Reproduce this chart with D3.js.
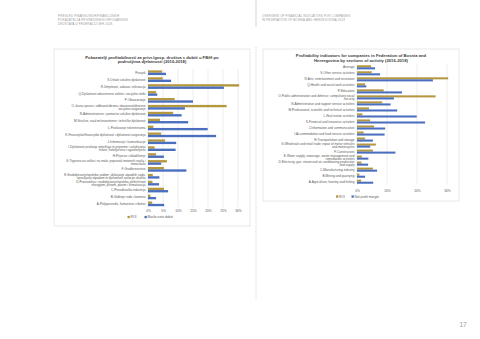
<!DOCTYPE html>
<html><head><meta charset="utf-8">
<script src="https://cdn.jsdelivr.net/npm/d3@7"></script>
<style>body{margin:0;background:#fff}svg{display:block}text{font-family:"Liberation Sans",Arial,sans-serif}</style>
</head><body>
<script>
const categoriesBs = ["Prosjek","S-Ostale uslužne djelatnosti","R-Umjetnost, zabava i rekreacija","Q-Djelatnosti zdravstvene zaštite i socijalne skrbi","P-Obrazovanje","O-Javna uprava i odbrana/obrana; obavezno/obvezno socijalno osiguranje","N-Administrativne i pomoćne uslužne djelatnosti","M-Stručne, naučne/znanstvene i tehničke djelatnosti","L-Poslovanje nekretninama","K-Finansijske/financijske djelatnosti i djelatnosti osiguranja","J-Informacije i komunikacije","I-Djelatnosti pružanja smještaja te pripreme i usluživanja hrane; hotelijerstvo i ugostiteljstvo","H-Prijevoz i skladištenje","G-Trgovina na veliko i na malo; popravak motornih vozila i motocikala","F-Građevinarstvo","E-Snabdijevanje/opskrba vodom; uklanjanje otpadnih voda, upravljanje otpadom te djelatnosti sanacije okoliša","D-Proizvodnja i snabdijevanje/opskrba električnom energijom, plinom, parom i klimatizacija","C-Prerađivačka industrija","B-Vađenje ruda i kamena","A-Poljoprivreda, šumarstvo i ribolov"];
const categoriesEn = ["Average","S-Other service activities","R-Arts, entertainment and recreation","Q-Health and social work activities","P-Education","O-Public administration and defence; compulsory social security","N-Administrative and support service activities","M-Professional, scientific and technical activities","L-Real estate activities","K-Financial and insurance activities","J-Information and communication","I-Accommodation and food service activities","H-Transportation and storage","G-Wholesale and retail trade; repair of motor vehicles and motorcycles","F-Construction","E-Water supply, sewerage, waste management and remediation activities","D-Electricity, gas, steam and air conditioning production and supply","C-Manufacturing industry","B-Mining and quarrying","A-Agriculture, forestry and fishing"];
const roi    = [4.7, 4.9, 30.4, 2.7, 8.9, 26.2, 8.4, 4.0, 1.8, 4.4, 5.7, 2.2, 2.7, 6.3, 5.3, 1.6, 1.5, 5.3, 0.8, 1.4];
const margin = [6.0, 7.7, 25.3, 3.1, 15.0, 12.3, 11.2, 13.4, 19.9, 22.7, 9.4, 9.2, 5.3, 4.4, 12.8, 3.8, 3.7, 6.7, 2.7, 5.4];
const seriesBs = ["ROI","Marža neto dobiti"];
const seriesEn = ["ROI","Net profit margin"];
const titleBs = ["Pokazatelji profitabilnosti za privr./gosp. društva s dobiti u FBiH po","područjima djelatnosti (2016-2018)"];
const titleEn = ["Profitability indicators for companies in Federation of Bosnia and","Herzegovina by sections of activity (2016-2018)"];
const ticksBs = [0,5,10,15,20,25,30];
const ticksEn = [0,10,20,30];
const headerBs = ["PREGLED FINANSIJSKIH/FINANCIJSKIH","POKAZATELJA PRIVREDNIH/GOSPODARSKIH","DRUŠTAVA U FEDERACIJI BIH 2018."];
const headerEn = ["OVERVIEW OF FINANCIAL INDICATORS FOR COMPANIES","IN FEDERATION OF BOSNIA AND HERZEGOVINA 2018"];
const pageNo = "17";

const colors = ["#B5973F","#4A6FBE"];
const W = 480, H = 339;
const svg = d3.select("body").append("svg").attr("width",W).attr("height",H);

// header
svg.append("line").attr("x1",256).attr("x2",256).attr("y1",0).attr("y2",27).attr("stroke","#bbb").attr("stroke-width",0.6);
svg.append("line").attr("x1",256).attr("x2",256).attr("y1",47).attr("y2",300).attr("stroke","#ccc").attr("stroke-width",0.8).attr("stroke-dasharray","1,1");
headerBs.forEach((t,i)=>svg.append("text").attr("x",58).attr("y",17+i*3.9).attr("font-size",2.9).attr("fill","#999").attr("letter-spacing",0.2).text(t));
headerEn.forEach((t,i)=>svg.append("text").attr("x",262).attr("y",17+i*3.9).attr("font-size",2.9).attr("fill","#999").attr("letter-spacing",0.2).text(t));
svg.append("text").attr("x",463).attr("y",327).attr("text-anchor","middle").attr("font-size",6.5).attr("fill","#999").text(pageNo);

function wrap(sel, width){
  sel.each(function(){
    const t = d3.select(this);
    const words = t.text().split(/\s+/);
    const x = t.attr("x"), fs = +t.attr("font-size");
    t.text(null);
    let lines=[], line=[];
    let ts = t.append("tspan").attr("x",x);
    for(const w of words){
      line.push(w); ts.text(line.join(" "));
      if(ts.node().getComputedTextLength()>width && line.length>1){
        line.pop(); lines.push(line.join(" ")); line=[w]; ts.text(w);
      }
    }
    lines.push(line.join(" "));
    t.text(null);
    const lh = fs*1.0;
    lines.forEach((l,i)=>t.append("tspan").attr("x",x).attr("dy", i===0 ? (-(lines.length-1)/2*lh + fs*0.35) : lh).text(l));
  });
}

function chart(o){
  const g = svg.append("g");
  g.append("rect").attr("x",o.box[0]).attr("y",o.box[1]).attr("width",o.box[2]-o.box[0]).attr("height",o.box[3]-o.box[1])
    .attr("fill","#fff").attr("stroke","#d9d9d9").attr("stroke-width",0.6);
  o.title.forEach((t,i)=>g.append("text").attr("x",o.titleX).attr("y",o.titleY+i*4.6).attr("text-anchor","middle")
    .attr("font-size",4.2).attr("font-weight","bold").attr("fill","#404040").text(t));
  const x = d3.scaleLinear().domain([0,30]).range(o.xr);
  const y = d3.scaleBand().domain(o.cats).range(o.yr).paddingInner(0.32).paddingOuter(0.16);
  const ys = d3.scaleBand().domain([0,1]).range([0,y.bandwidth()]);
  g.selectAll(".grid").data(o.ticks).join("line").attr("x1",d=>x(d)).attr("x2",d=>x(d))
    .attr("y1",o.yr[0]).attr("y2",o.yr[1]).attr("stroke","#d9d9d9").attr("stroke-width",0.5);
  const ax = g.append("g").attr("transform",`translate(0,${o.axisY})`)
    .call(d3.axisBottom(x).tickValues(o.ticks).tickFormat(d=>d+"%").tickSize(0).tickPadding(0));
  ax.select(".domain").remove();
  ax.selectAll("text").attr("font-size",3.3).attr("fill","#595959").attr("font-family","Liberation Sans, Arial");
  const data = o.cats.map((c,i)=>({c, v:[roi[i], margin[i]]}));
  const rows = g.selectAll(".row").data(data).join("g").attr("transform",d=>`translate(0,${y(d.c)})`);
  rows.selectAll("rect").data(d=>d.v.map((v,k)=>({v,k}))).join("rect")
    .attr("x",x(0)).attr("y",d=>ys(d.k)).attr("height",ys.bandwidth()).attr("width",d=>x(d.v)-x(0)).attr("fill",d=>colors[d.k]);
  g.selectAll(".lab").data(o.cats).join("text").attr("class","lab")
    .attr("x",x(0)-2.5).attr("y",d=>y(d)+y.bandwidth()/2).attr("text-anchor","end")
    .attr("font-size",3.1).attr("fill","#595959").text(d=>d).call(wrap,o.labW);
  const lg = g.append("g");
  o.series.forEach((s,k)=>{
    lg.append("rect").attr("x",o.legX[k]).attr("y",o.legY-2.6).attr("width",2.3).attr("height",2.3).attr("fill",colors[k]);
    lg.append("text").attr("x",o.legX[k]+3).attr("y",o.legY-0.2).attr("font-size",3.3).attr("fill","#595959").text(s);
  });
}

chart({box:[54,49,250,226], title:titleBs, titleX:152, titleY:58.5, cats:categoriesBs, xr:[148,238], yr:[69.3,207.3],
  ticks:ticksBs, axisY:209.5, labW:84, series:seriesBs, legX:[127.5,144.5], legY:218.5});
chart({box:[263,49,459,201], title:titleEn, titleX:361, titleY:57, cats:categoriesEn, xr:[357,447], yr:[64.3,184.7],
  ticks:ticksEn, axisY:189.5, labW:77, series:seriesEn, legX:[336,351.5], legY:198});
</script>
</body></html>
